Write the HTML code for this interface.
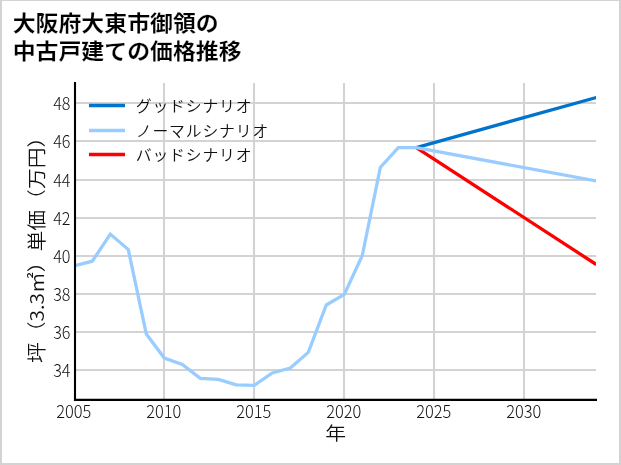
<!DOCTYPE html>
<html lang="ja"><head><meta charset="utf-8"><title>大阪府大東市御領の中古戸建ての価格推移</title>
<style>
html,body{margin:0;padding:0;background:#fff;}
body{width:621px;height:465px;overflow:hidden;}
svg{display:block;font-family:"Liberation Sans","Noto Sans CJK JP",sans-serif;}
.jp{font-family:"Noto Sans CJK JP","Liberation Sans",sans-serif;}
</style></head><body>
<svg width="621" height="465" viewBox="0 0 621 465">
<rect x="0" y="0" width="621" height="465" fill="#fff"/>
<g fill="#d3d3d3"><rect x="0" y="0" width="2" height="465"/><rect x="619" y="0" width="2" height="465"/><rect x="0" y="0" width="621" height="1"/><rect x="0" y="463" width="621" height="2"/></g>
<g stroke="#d3d3d3" stroke-width="2.1"><line x1="75" x2="596" y1="370.0" y2="370.0"/><line x1="75" x2="596" y1="332.0" y2="332.0"/><line x1="75" x2="596" y1="294.0" y2="294.0"/><line x1="75" x2="596" y1="256.0" y2="256.0"/><line x1="75" x2="596" y1="218.0" y2="218.0"/><line x1="75" x2="596" y1="180.0" y2="180.0"/><line x1="75" x2="596" y1="141.0" y2="141.0"/><line x1="75" x2="596" y1="103.0" y2="103.0"/><line x1="164.0" x2="164.0" y1="83" y2="400"/><line x1="254.0" x2="254.0" y1="83" y2="400"/><line x1="344.0" x2="344.0" y1="83" y2="400"/><line x1="434.0" x2="434.0" y1="83" y2="400"/><line x1="524.0" x2="524.0" y1="83" y2="400"/></g>
<clipPath id="c"><rect x="75" y="82" width="521" height="318"/></clipPath>
<g fill="none" stroke-width="3.3" stroke-linejoin="miter" clip-path="url(#c)">
<polyline points="416.3,147.6 596.3,264.5" stroke="#ff0000"/>
<polyline points="416.3,147.6 596.3,97.5" stroke="#0074cd"/>
<polyline points="74.3,265.8 92.3,261.2 110.3,234.1 128.3,249.6 146.3,334.0 164.3,358.0 182.3,364.4 200.3,378.4 218.3,379.4 236.3,384.8 254.3,385.4 272.3,373.0 290.3,368.0 308.3,352.4 326.3,305.0 344.3,294.4 362.3,255.5 380.3,167.4 398.3,147.6 416.3,147.6 596.3,181.0" stroke="#99ccff"/>
</g>
<line x1="75" x2="75" y1="82" y2="400.9" stroke="#000" stroke-width="2.1"/>
<line x1="74" x2="597" y1="399.87" y2="399.87" stroke="#000" stroke-width="2.1"/>
<g class="jp" font-size="22.9" font-weight="700" fill="#000" stroke="#fff" stroke-width="0.2" transform="scale(1,0.96)">
<text x="12.7" y="32.71">大阪府大東市御領の</text>
<text x="12.7" y="61.35">中古戸建ての価格推移</text>
</g>
<g class="jp" font-size="16.67" font-weight="300" fill="#111">
<text transform="translate(70.5,376.8) scale(0.97,1.05)" text-anchor="end">34</text><text transform="translate(70.5,338.8) scale(0.97,1.05)" text-anchor="end">36</text><text transform="translate(70.5,300.8) scale(0.97,1.05)" text-anchor="end">38</text><text transform="translate(70.5,262.8) scale(0.97,1.05)" text-anchor="end">40</text><text transform="translate(70.5,224.8) scale(0.97,1.05)" text-anchor="end">42</text><text transform="translate(70.5,186.8) scale(0.97,1.05)" text-anchor="end">44</text><text transform="translate(70.5,147.8) scale(0.97,1.05)" text-anchor="end">46</text><text transform="translate(70.5,109.8) scale(0.97,1.05)" text-anchor="end">48</text>
<text transform="translate(73.8,418.0) scale(0.985,1.05)" text-anchor="middle">2005</text><text transform="translate(163.8,418.0) scale(0.985,1.05)" text-anchor="middle">2010</text><text transform="translate(253.8,418.0) scale(0.985,1.05)" text-anchor="middle">2015</text><text transform="translate(343.8,418.0) scale(0.985,1.05)" text-anchor="middle">2020</text><text transform="translate(433.8,418.0) scale(0.985,1.05)" text-anchor="middle">2025</text><text transform="translate(523.8,418.0) scale(0.985,1.05)" text-anchor="middle">2030</text>
<g font-weight="350" letter-spacing="0.88">
<text transform="translate(135.8,112) scale(0.95,0.93)">グッドシナリオ</text>
<text transform="translate(135.8,137) scale(0.95,0.93)">ノーマルシナリオ</text>
<text transform="translate(135.8,161.2) scale(0.95,0.93)">バッドシナリオ</text>
</g>
<text transform="translate(335.6,439.8) scale(1.04,0.90)" font-size="20" font-weight="350" text-anchor="middle">年</text>
</g>
<text class="jp" font-size="20" font-weight="350" fill="#111" transform="translate(43.9,244.9) rotate(-90) scale(1.04,0.94)" text-anchor="middle">坪（3.3㎡）単価（万円）</text>
<g stroke-width="3.3">
<line x1="89" x2="125" y1="105.5" y2="105.5" stroke="#0074cd"/>
<line x1="89" x2="125" y1="130.5" y2="130.5" stroke="#99ccff"/>
<line x1="89" x2="125" y1="154.5" y2="154.5" stroke="#ff0000"/>
</g>
</svg>
</body></html>
